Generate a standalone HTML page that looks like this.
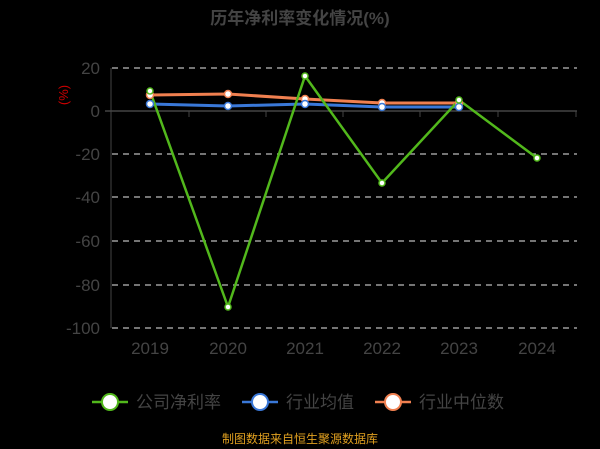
<!DOCTYPE html>
<html><head><meta charset="utf-8"><style>
body{margin:0;background:#000;}
svg{display:block;font-family:"Liberation Sans","Noto Sans CJK SC",sans-serif;}
</style></head><body>
<svg width="600" height="449" viewBox="0 0 600 449">
<rect width="600" height="449" fill="#000"/>
<text x="300" y="24" text-anchor="middle" font-size="17" font-weight="bold" fill="#444">历年净利率变化情况(%)</text>
<g stroke="#bbb" stroke-dasharray="6,5" stroke-width="1.3">
<line x1="112" x2="577" y1="68" y2="68"/>
<line x1="112" x2="577" y1="154" y2="154"/>
<line x1="112" x2="577" y1="197" y2="197"/>
<line x1="112" x2="577" y1="241" y2="241"/>
<line x1="112" x2="577" y1="285" y2="285"/>
<line x1="112" x2="577" y1="328" y2="328"/>
</g>
<line x1="111" y1="68" x2="111" y2="328" stroke="#444"/>
<line x1="105" y1="111" x2="577" y2="111" stroke="#444" stroke-width="1.5"/>
<g stroke="#444"><line x1="189" y1="111" x2="189" y2="117"/><line x1="266" y1="111" x2="266" y2="117"/><line x1="343" y1="111" x2="343" y2="117"/><line x1="420" y1="111" x2="420" y2="117"/><line x1="498" y1="111" x2="498" y2="117"/><line x1="576" y1="111" x2="576" y2="117"/></g>
<g font-size="17" fill="#444" text-anchor="end">
<text x="100" y="74">20</text><text x="100" y="117">0</text><text x="100" y="160">-20</text><text x="100" y="203">-40</text><text x="100" y="247">-60</text><text x="100" y="291">-80</text><text x="100" y="334">-100</text>
</g>
<text transform="translate(68,95) rotate(-90)" text-anchor="middle" font-size="13" fill="#c00">(%)</text>
<g font-size="17" fill="#444" text-anchor="middle">
<text x="150" y="354">2019</text><text x="228" y="354">2020</text><text x="305" y="354">2021</text><text x="382" y="354">2022</text><text x="459" y="354">2023</text><text x="537" y="354">2024</text>
</g>
<polyline points="150,95 228,94 305,99 382,103 459,103" fill="none" stroke="#f08050" stroke-width="3"/>
<polyline points="150,104 228,106 305,104 382,107 459,107" fill="none" stroke="#3a78d8" stroke-width="3"/>
<polyline points="150,91 228,307 305,76 382,183 459,100 537,158" fill="none" stroke="#52b81c" stroke-width="2.5"/>
<g fill="#fff" stroke-width="1.5">
<g stroke="#f08050"><circle cx="150" cy="95" r="3.5"/><circle cx="228" cy="94" r="3.5"/><circle cx="305" cy="99" r="3.5"/><circle cx="382" cy="103" r="3.5"/><circle cx="459" cy="103" r="3.5"/></g>
<g stroke="#3a78d8"><circle cx="150" cy="104" r="3.5"/><circle cx="228" cy="106" r="3.5"/><circle cx="305" cy="104" r="3.5"/><circle cx="382" cy="107" r="3.5"/><circle cx="459" cy="107" r="3.5"/></g>
<g stroke="#52b81c"><circle cx="150" cy="91" r="3"/><circle cx="228" cy="307" r="3"/><circle cx="305" cy="76" r="3"/><circle cx="382" cy="183" r="3"/><circle cx="459" cy="100" r="3"/><circle cx="537" cy="158" r="3"/></g>
</g>
<g font-size="17" fill="#444">
<line x1="92" y1="402" x2="128" y2="402" stroke="#52b81c" stroke-width="2.5"/><circle cx="110" cy="402" r="8" fill="#fff" stroke="#52b81c" stroke-width="2"/><text x="136" y="408">公司净利率</text>
<line x1="242" y1="402" x2="278" y2="402" stroke="#3a78d8" stroke-width="2.5"/><circle cx="260" cy="402" r="8" fill="#fff" stroke="#3a78d8" stroke-width="2"/><text x="286" y="408">行业均值</text>
<line x1="375" y1="402" x2="411" y2="402" stroke="#f08050" stroke-width="2.5"/><circle cx="393" cy="402" r="8" fill="#fff" stroke="#f08050" stroke-width="2"/><text x="419" y="408">行业中位数</text>
</g>
<text x="300" y="443" text-anchor="middle" font-size="12" fill="#e0a020">制图数据来自恒生聚源数据库</text>
</svg>
</body></html>
